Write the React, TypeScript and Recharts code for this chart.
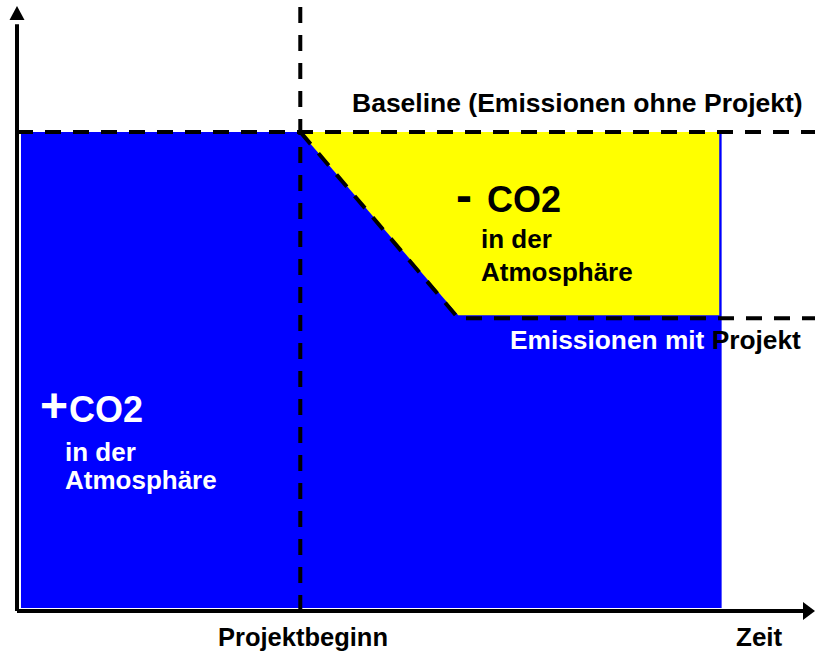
import React from 'react';
import {
  ComposedChart, Area, Line, XAxis, YAxis, ReferenceLine, ReferenceDot,
} from 'recharts';

// time axis (0..100 = origin .. arrow tip), emissions axis (0..101)
const timeSteps = [0.5, 35.5, 55.3, 88.0, 88.3, 100];
const emittedLow = [0.5, 0.5, 0.5, 0.5, 0.5, null];
const emittedHigh = [79.2, 79.2, 79.2, 79.2, 79.2, null];
const savedLow = [null, 79.2, 48.9, 48.9, null, null];
const savedHigh = [null, 79.2, 79.2, 79.2, null, null];
const withProject = [null, 79.2, 48.4, 48.4, 48.4, 48.4];

const projectStart = 35.5;
const baselineLevel = 79.2;
const axisEnd = { x: 100, y: 100 };

const FONT = '"Liberation Sans", Arial, sans-serif';

const rows = timeSteps.map((t, i) => ({
  t,
  emitted: emittedLow[i] == null ? null : [emittedLow[i], emittedHigh[i]],
  saved: savedLow[i] == null ? null : [savedLow[i], savedHigh[i]],
  withProject: withProject[i],
}));

const dash = '16 12';

const UpArrow = (props: any) => {
  const { cx, cy } = props;
  return <path d={`M${cx},${cy} L${cx - 7.5},${cy + 14} L${cx + 7.5},${cy + 14} Z`} fill="#000" />;
};

const RightArrow = (props: any) => {
  const { cx, cy } = props;
  return <path d={`M${cx},${cy} L${cx - 12},${cy - 9} L${cx - 12},${cy + 9} Z`} fill="#000" />;
};

const Labels = () => (
  <svg
    width={815}
    height={655}
    style={{ position: 'absolute', left: 0, top: 0, pointerEvents: 'none' }}
    fontFamily={FONT}
    fontWeight={700}
  >
    <text x={352} y={112} fontSize={26.5} fill="#000">Baseline (Emissionen ohne Projekt)</text>

    <text y={212} fill="#000">
      <tspan x={456} fontSize={48}>-</tspan>
      <tspan x={487} fontSize={36}>CO2</tspan>
    </text>
    <text x={481} y={248} fontSize={26} fill="#000">in der</text>
    <text x={481} y={281} fontSize={26} fill="#000">Atmosphäre</text>

    <text x={510} y={349} fontSize={26.3}>
      <tspan fill="#fff">Emissionen mit </tspan>
      <tspan fill="#000">Projekt</tspan>
    </text>

    <text y={422} fill="#fff">
      <tspan x={40} fontSize={48}>+</tspan>
      <tspan x={69} fontSize={36}>CO2</tspan>
    </text>
    <text x={65} y={461} fontSize={26} fill="#fff">in der</text>
    <text x={65} y={489} fontSize={26} fill="#fff">Atmosphäre</text>

    <text x={218} y={646} fontSize={25.5} fill="#000">Projektbeginn</text>
    <text x={736} y={646} fontSize={26} fill="#000">Zeit</text>
  </svg>
);

export default function App() {
  return (
    <div style={{ position: 'absolute', left: 0, top: 0, width: 815, height: 655, background: '#fff' }}>
      <ComposedChart width={815} height={655} data={rows} margin={{ top: 0, right: 0, bottom: 44, left: 17 }}>
        <XAxis type="number" dataKey="t" domain={[0, 100]} hide allowDataOverflow />
        <YAxis type="number" domain={[0, 101]} hide allowDataOverflow />
        <Area
          type="linear"
          dataKey="emitted"
          fill="#0000ff"
          fillOpacity={1}
          stroke="none"
          isAnimationActive={false}
        />
        <Area
          type="linear"
          dataKey="saved"
          fill="#ffff00"
          fillOpacity={1}
          stroke="none"
          isAnimationActive={false}
        />
        <ReferenceLine x={projectStart} stroke="#000" strokeWidth={4} strokeDasharray={dash} />
        <ReferenceLine y={baselineLevel} stroke="#000" strokeWidth={4} strokeDasharray={dash} />
        <Line
          type="linear"
          dataKey="withProject"
          stroke="#000"
          strokeWidth={4}
          strokeDasharray={dash}
          dot={false}
          activeDot={false}
          isAnimationActive={false}
        />
        <ReferenceLine segment={[{ x: 0, y: 0 }, { x: 0, y: 97 }]} stroke="#000" strokeWidth={4} />
        <ReferenceLine segment={[{ x: 0, y: 0 }, { x: 98.6, y: 0 }]} stroke="#000" strokeWidth={4} />
        <ReferenceDot x={0} y={axisEnd.y} ifOverflow="visible" shape={UpArrow} />
        <ReferenceDot x={axisEnd.x} y={0} ifOverflow="visible" shape={RightArrow} />
      </ComposedChart>
      <Labels />
    </div>
  );
}
